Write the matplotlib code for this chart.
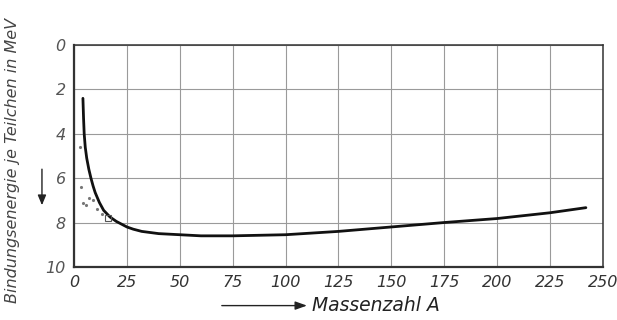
import matplotlib
matplotlib.use("Agg")
import matplotlib.pyplot as plt

# Binding energy per nucleon (MeV) vs. mass number A
mass_number = [4.2, 4.5, 4.8, 5.3, 6, 7, 8, 9, 10, 12, 14, 17, 20, 23, 25, 28,
               32, 40, 50, 60, 75, 100, 125, 150, 175, 200, 225, 242]
binding_energy = [2.4, 3.3, 4.0, 4.6, 5.1, 5.6, 6.0, 6.35, 6.65, 7.1, 7.45, 7.75,
                  7.95, 8.1, 8.2, 8.3, 8.4, 8.5, 8.55, 8.6, 8.6, 8.55, 8.4, 8.2,
                  8.0, 7.82, 7.56, 7.33]

# Individual light nuclei
light_a = [3.0, 3.2, 4.0, 5.5, 7.0, 9.0, 11.0, 13.0]
light_e = [4.6, 6.4, 7.1, 7.2, 6.9, 7.0, 7.4, 7.6]
square_a = [16]
square_e = [7.8]

x_ticks = [0, 25, 50, 75, 100, 125, 150, 175, 200, 225, 250]
y_ticks = [0, 2, 4, 6, 8, 10]

fig = plt.figure(figsize=(6.17, 3.2), dpi=100)
ax = fig.add_axes([0.12, 0.166, 0.857, 0.693])

ax.plot(mass_number, binding_energy, color="#111111", lw=2.0,
        solid_capstyle="round", solid_joinstyle="round")
ax.plot(light_a, light_e, ls="none", marker=".", ms=2.5, color="#777777")
ax.plot(square_a, square_e, ls="none", marker="s", ms=4, mfc="none", mec="#555555", mew=0.8)

ax.set_xlim(0, 250)
ax.set_ylim(10, 0)
ax.set_xticks(x_ticks)
ax.set_yticks(y_ticks)
ax.set_xticklabels([str(t) for t in x_ticks], fontstyle="italic", fontsize=11.5, color="#333333")
ax.set_yticklabels([str(t) for t in y_ticks], fontstyle="italic", fontsize=11.5, color="#555555")
ax.tick_params(length=0, pad=6)
ax.grid(True, color="#9a9a9a", lw=0.8)
for s in ax.spines.values():
    s.set_color("#333333")
    s.set_linewidth(1.1)
ax.spines["bottom"].set_linewidth(1.6)
ax.spines["left"].set_linewidth(1.6)

fig.text(0.505, 0.045, "Massenzahl A", fontstyle="italic", fontsize=13.5,
         color="#222222", ha="left", va="center")
fig.add_artist(matplotlib.patches.FancyArrowPatch(
    (0.355, 0.045), (0.502, 0.045), transform=fig.transFigure,
    arrowstyle="-|>,head_length=7,head_width=2.5", color="#222222", lw=1.0))

fig.text(0.02, 0.5, "Bindungsenergie je Teilchen in MeV", rotation=90,
         fontstyle="italic", fontsize=11.5, color="#444444", ha="center", va="center")
fig.add_artist(matplotlib.patches.FancyArrowPatch(
    (0.068, 0.48), (0.068, 0.35), transform=fig.transFigure,
    arrowstyle="-|>,head_length=6,head_width=2.5", color="#222222", lw=1.0))

fig.savefig("out.png", dpi=100, facecolor="white")
